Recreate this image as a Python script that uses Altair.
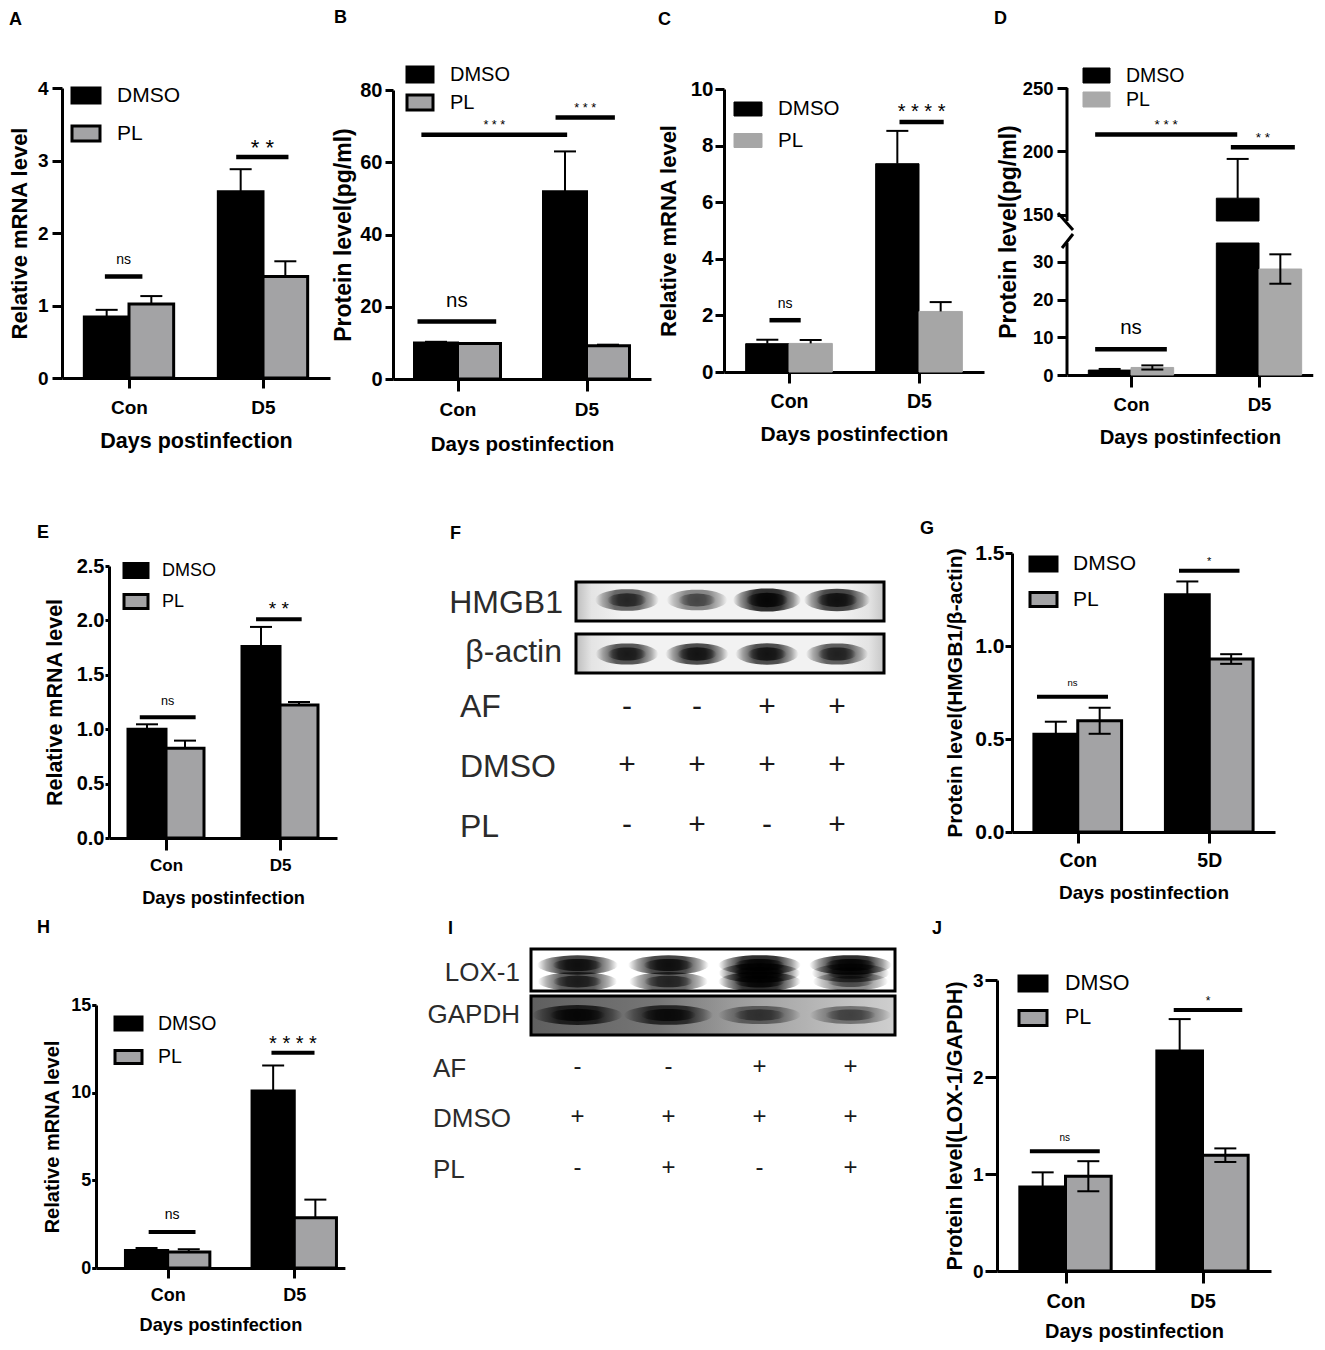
import numpy as np
import pandas as pd
import altair as alt

FONT = "Liberation Sans"
GROUPS = ["Con", "D5"]
GROUPS_G = ["Con", "5D"]
SERIES = ["DMSO", "PL"]
LANES = [1, 2, 3, 4]

# ---------------- bar-chart data ----------------
A_DMSO = [0.84, 2.57]; A_DMSO_SD = [0.10, 0.31]
A_PL = [1.02, 1.40]; A_PL_SD = [0.11, 0.21]
A_SIG_LABEL = ["ns", "* *"]; A_SIG_X0 = [0.32, 1.30]; A_SIG_X1 = [0.60, 1.69]
A_SIG_Y = [1.40, 3.05]; A_SIG_TEXT_Y = [1.63, 3.26]
A_YTICKS = [0, 1, 2, 3, 4]

B_DMSO = [10.0, 51.8]; B_DMSO_SD = [0.3, 11.2]
B_PL = [9.8, 9.2]; B_PL_SD = [0.1, 0.3]
B_SIG_LABEL = ["ns", "* * *", "* * *"]; B_SIG_X0 = [0.19, 0.22, 1.26]; B_SIG_X1 = [0.80, 1.35, 1.72]
B_SIG_Y = [15.9, 67.6, 72.4]; B_SIG_TEXT_Y = [21.5, 71.2, 76.1]
B_YTICKS = [0, 20, 40, 60, 80]

C_DMSO = [1.00, 7.36]; C_DMSO_SD = [0.14, 1.16]
C_PL = [1.01, 2.14]; C_PL_SD = [0.12, 0.33]
C_SIG_LABEL = ["ns", "* * * *"]; C_SIG_X0 = [0.35, 1.35]; C_SIG_X1 = [0.59, 1.69]
C_SIG_Y = [1.83, 8.83]; C_SIG_TEXT_Y = [2.42, 9.39]
C_YTICKS = [0, 2, 4, 6, 8, 10]

D_DMSO = [1.3, 163.0]; D_DMSO_SD = [0.3, 31.0]
D_PL = [2.0, 28.1]; D_PL_SD = [0.55, 3.9]
D_SIG_LABEL = ["ns", "* * *", "* *"]; D_SIG_X0 = [0.22, 0.22, 1.28]; D_SIG_X1 = [0.78, 1.33, 1.78]
D_SIG_Y = [6.8, 213.2, 203.2]; D_SIG_TEXT_Y = [12.4, 223.7, 213.7]
D_YTICKS = [0, 10, 20, 30, 150, 200, 250]
D_BREAK = [35, 145]

E_DMSO = [1.00, 1.76]; E_DMSO_SD = [0.045, 0.18]
E_PL = [0.825, 1.222]; E_PL_SD = [0.07, 0.028]
E_SIG_LABEL = ["ns", "* *"]; E_SIG_X0 = [0.27, 1.29]; E_SIG_X1 = [0.76, 1.69]
E_SIG_Y = [1.11, 2.01]; E_SIG_TEXT_Y = [1.26, 2.15]
E_YTICKS = [0, 0.5, 1.0, 1.5, 2.0, 2.5]

G_DMSO = [0.526, 1.275]; G_DMSO_SD = [0.067, 0.072]
G_PL = [0.598, 0.930]; G_PL_SD = [0.07, 0.026]
G_SIG_LABEL = ["ns", "*"]; G_SIG_X0 = [0.19, 1.27]; G_SIG_X1 = [0.73, 1.73]
G_SIG_Y = [0.727, 1.405]; G_SIG_TEXT_Y = [0.80, 1.47]
G_YTICKS = [0, 0.5, 1.0, 1.5]

H_DMSO = [1.0, 10.1]; H_DMSO_SD = [0.14, 1.45]
H_PL = [0.91, 2.87]; H_PL_SD = [0.16, 1.03]
H_SIG_LABEL = ["ns", "* * * *"]; H_SIG_X0 = [0.35, 1.32]; H_SIG_X1 = [0.72, 1.66]
H_SIG_Y = [2.06, 12.28]; H_SIG_TEXT_Y = [3.0, 13.1]
H_YTICKS = [0, 5, 10, 15]

J_DMSO = [0.867, 2.267]; J_DMSO_SD = [0.15, 0.33]
J_PL = [0.977, 1.194]; J_PL_SD = [0.155, 0.07]
J_SIG_LABEL = ["ns", "*"]; J_SIG_X0 = [0.24, 1.29]; J_SIG_X1 = [0.75, 1.79]
J_SIG_Y = [1.235, 2.69]; J_SIG_TEXT_Y = [1.376, 2.82]
J_YTICKS = [0, 1, 2, 3]

# ---------------- western blot data (band intensity per lane) ----------------
F_HMGB1 = [0.72, 0.55, 1.00, 0.88]
F_BACTIN = [0.80, 0.85, 0.85, 0.75]
F_AF = ["-", "-", "+", "+"]; F_DMSO = ["+", "+", "+", "+"]; F_PLS = ["-", "+", "-", "+"]
I_LOX1_UPPER = [0.90, 0.90, 1.00, 1.00]
I_LOX1_MID = [0.0, 0.0, 0.95, 0.70]
I_LOX1_LOWER = [0.80, 0.75, 1.00, 0.55]
I_GAPDH = [0.90, 0.85, 0.55, 0.50]
I_AF = ["-", "-", "+", "+"]; I_DMSO = ["+", "+", "+", "+"]; I_PLS = ["-", "+", "-", "+"]

# ---------------- canvas ----------------
O = 8            # page margin: page coordinate -> chart coordinate
CW, CH = 1309, 1334
DUMMY = pd.DataFrame({"k": [0]})


def ellipse_path(r, n=36):
    pts = []
    for k in range(n):
        t = 2 * np.pi * k / n
        pts.append(f"{np.cos(t):.4f},{r * np.sin(t):.4f}")
    return "M" + "L".join(pts) + "Z"


def rect_path(r):
    return f"M-1,-{r:.4f}L1,-{r:.4f}L1,{r:.4f}L-1,{r:.4f}Z"


BAND_FILL = alt.RadialGradient(
    gradient="radial", x1=0.5, y1=0.5, r1=0, x2=0.5, y2=0.5, r2=0.5,
    stops=[alt.GradientStop(color="rgba(0,0,0,1)", offset=0),
           alt.GradientStop(color="rgba(0,0,0,0.92)", offset=0.45),
           alt.GradientStop(color="rgba(0,0,0,0.45)", offset=0.78),
           alt.GradientStop(color="rgba(0,0,0,0)", offset=1)])


def letter_layer(ch, x, y):
    return alt.Chart(DUMMY).mark_text(font=FONT, fontSize=18, fontWeight="bold", align="left",
                                      baseline="middle", color="black").encode(
        x=alt.value(x - O), y=alt.value(y - O), text=alt.value(ch))


def bar_panel(P):
    ax, top, bot = P["ax"] - O, P["top"] - O, P["bottom"] - O
    W = (P["xmax"] - P["xmin"]) * P["step"]
    groups = P["groups"]
    bw = 1 / 3
    cap = 11 / P["step"]
    xs = alt.Scale(domain=[P["xmin"], P["xmax"]], range=[ax, ax + W], nice=False, zero=False)
    brk = P.get("ybreak")
    if brk:
        ys = alt.Scale(domain=[0, brk[0], brk[1], P["ymax"]], range=[v - O for v in P["yrange"]],
                       nice=False, zero=False)
    else:
        ys = alt.Scale(domain=[0, P["ymax"]], range=[bot, top], nice=False, zero=True)

    bars, errs = [], []
    for gi, g in enumerate(groups):
        for si, (s, vals, sds) in enumerate([("DMSO", P["dmso"], P["dmso_sd"]), ("PL", P["pl"], P["pl_sd"])]):
            xc = gi + 0.5 + (si - 0.5) * bw
            v, sd = vals[gi], sds[gi]
            pieces = [(0, v)]
            if brk:
                pieces = [(0, min(v, brk[0]))] + ([(brk[1], v)] if v > brk[1] else [])
            for a, b in pieces:
                bars.append(dict(series=s, x0=xc - bw / 2, x1=xc + bw / 2, y0=a, y1=b))
            lower = (s == "PL") and P["two_sided"]
            errs.append(dict(xc=xc, v=v, hi=v + sd, lo=(v - sd) if lower else v,
                             c0=xc - cap, c1=xc + cap, lower=lower))
    bars = pd.DataFrame(bars)
    errs = pd.DataFrame(errs)
    sig = pd.DataFrame({"lab": P["sig"][0], "x0": P["sig"][1], "x1": P["sig"][2],
                        "y": P["sig"][3], "ty": P["sig"][4]})
    sig["xm"] = (sig["x0"] + sig["x1"]) / 2
    sig["ns"] = sig["lab"] == "ns"

    lg = P["legend"]  # left, w, h, first centre y, spacing, label left, font size (relative to plot)
    sw = P["bar_sw"]
    d = lg[1]
    legX = lg[0] - sw / 2
    legY = lg[3] - (d + sw) / 2
    legend = alt.Legend(orient="none", legendX=ax + legX, legendY=top + legY, title=None,
                        symbolType=rect_path(lg[2] / lg[1]), symbolSize=d * d,
                        symbolStrokeWidth=sw, labelFont=FONT, labelFontSize=lg[6],
                        labelColor="black", labelOffset=lg[5] - (legX + d + sw),
                        rowPadding=lg[4] - (d + sw), padding=0, offset=0)

    lab_expr = f"datum.value < 1 ? '{groups[0]}' : '{groups[1]}'"
    xaxis = alt.Axis(orient="bottom", offset=bot - CH, values=[0.5, 1.5], labelExpr=lab_expr,
                     domain=True, ticks=True, labels=True,
                     title=P["xtitle"], titleFont=FONT, titleFontSize=P["xtfs"], titleFontWeight="bold",
                     titleColor="black", titleBaseline="alphabetic", titleX=ax + W / 2, titleY=P["xty"],
                     titleAlign="center", labelFont=FONT, labelFontSize=P["xlfs"], labelFontWeight="bold",
                     labelColor="black", labelPadding=P["xlp"], tickSize=P["xts"], tickWidth=3,
                     tickColor="black", domainWidth=3, domainColor="black", grid=False, labelFlush=False,
                     labelOverlap=False)
    yaxis = alt.Axis(orient="left", offset=-ax, values=P["yticks"], format=P.get("yfmt", "d"),
                     ticks=True, labels=True,
                     title=P["ytitle"], titleFont=FONT, titleFontSize=P["ytfs"], titleFontWeight="bold",
                     titleColor="black", titleBaseline="alphabetic", titleX=P["ytx"],
                     titleY=(top + bot) / 2, titleAlign="center", titleAngle=270,
                     labelFont=FONT, labelFontSize=P["ylfs"], labelFontWeight="bold", labelColor="black",
                     labelPadding=P["ylp"], tickSize=P["yts"], tickWidth=3, tickColor="black",
                     domain=not brk, domainWidth=3, domainColor="black", grid=False, labelOverlap=False)

    layers = [letter_layer(P["letter"], *P["letter_xy"])]
    layers.append(alt.Chart(bars).mark_rect(strokeWidth=sw).encode(
        x=alt.X("x0:Q", scale=xs, axis=xaxis), x2="x1:Q",
        y=alt.Y("y0:Q", scale=ys, axis=yaxis), y2="y1:Q",
        fill=alt.Fill("series:N", scale=alt.Scale(domain=SERIES, range=["#000000", P["pl_fill"]]), legend=legend),
        stroke=alt.Stroke("series:N", scale=alt.Scale(domain=SERIES, range=["#000000", P["pl_stroke"]]),
                          legend=legend),
    ))
    if brk:
        seg = pd.DataFrame({"a": [0, brk[1]], "b": [brk[0], P["ymax"]]})
        layers.append(alt.Chart(seg).mark_rule(color="black", strokeWidth=3).encode(
            x=alt.value(ax), y=alt.Y("a:Q", scale=ys), y2="b:Q"))
        for (xa, ya, xb, yb) in P["breakmarks"]:
            layers.append(alt.Chart(DUMMY).mark_rule(color="black", strokeWidth=3).encode(
                x=alt.value(ax + xa), y=alt.value(top + ya), x2=alt.value(ax + xb), y2=alt.value(top + yb)))
    layers.append(alt.Chart(errs).mark_rule(color="black", strokeWidth=2).encode(
        x=alt.X("xc:Q", scale=xs), y=alt.Y("lo:Q", scale=ys), y2="hi:Q"))
    layers.append(alt.Chart(errs).mark_rule(color="black", strokeWidth=2).encode(
        x=alt.X("c0:Q", scale=xs), x2="c1:Q", y=alt.Y("hi:Q", scale=ys)))
    low = errs[errs["lower"]]
    if len(low):
        layers.append(alt.Chart(low).mark_rule(color="black", strokeWidth=2).encode(
            x=alt.X("c0:Q", scale=xs), x2="c1:Q", y=alt.Y("lo:Q", scale=ys)))
    layers.append(alt.Chart(sig).mark_rule(color="black", strokeWidth=P["sig_sw"]).encode(
        x=alt.X("x0:Q", scale=xs), x2="x1:Q", y=alt.Y("y:Q", scale=ys)))
    layers.append(alt.Chart(sig[sig["ns"]]).mark_text(font=FONT, fontSize=P["ns_fs"], color="black",
                                                     baseline="middle").encode(
        x=alt.X("xm:Q", scale=xs), y=alt.Y("ty:Q", scale=ys), text="lab:N"))
    layers.append(alt.Chart(sig[~sig["ns"]]).mark_text(font=FONT, fontSize=P["star_fs"], color="black",
                                                      baseline="middle", dy=0.28 * P["star_fs"]).encode(
        x=alt.X("xm:Q", scale=xs), y=alt.Y("ty:Q", scale=ys), text="lab:N"))
    return alt.layer(*layers)


def blot_panel(Bc):
    bx, by = Bc["x"] - O, Bc["y"] - O
    W = Bc["w"]
    xs = alt.Scale(domain=Bc["xdom"], range=[bx, bx + W], nice=False, zero=False)
    layers = []
    for (t, b, fill) in Bc["boxes"]:
        layers.append(alt.Chart(DUMMY).mark_rect(fill=fill, strokeWidth=0).encode(
            x=alt.value(bx), x2=alt.value(bx + W), y=alt.value(by + t), y2=alt.value(by + b)))
    for (inten, y, wmin, wmax, r) in Bc["bands"]:
        df = pd.DataFrame({"lane": LANES, "inten": inten})
        for m in (1.0, 0.62):
            layers.append(alt.Chart(df).mark_point(shape=ellipse_path(r), filled=True, fill=BAND_FILL,
                                                   strokeWidth=0).encode(
                x=alt.X("lane:Q", scale=xs, axis=None), y=alt.value(by + y),
                size=alt.Size("inten:Q", scale=alt.Scale(domain=[0, 1], range=[(wmin * m) ** 2, (wmax * m) ** 2]),
                              legend=None),
                opacity=alt.Opacity("inten:Q", scale=alt.Scale(domain=[0, 1], range=[0, Bc["band_op"]]),
                                    legend=None)))
    for (t, b, fill) in Bc["boxes"]:
        layers.append(alt.Chart(DUMMY).mark_rect(fillOpacity=0, stroke="black", strokeWidth=3).encode(
            x=alt.value(bx), x2=alt.value(bx + W), y=alt.value(by + t), y2=alt.value(by + b)))
    for (txt, x, y, align, fs) in Bc["labels"]:
        layers.append(alt.Chart(DUMMY).mark_text(font=FONT, fontSize=fs, color="#2b2b2b", align=align,
                                                 baseline="alphabetic").encode(
            x=alt.value(bx + x), y=alt.value(by + y), text=alt.value(txt)))
    for (signs, y) in Bc["signs"]:
        df = pd.DataFrame({"lane": LANES, "sign": signs})
        layers.append(alt.Chart(df).mark_text(font=FONT, fontSize=Bc["sign_fs"], color="#1a1a1a",
                                              baseline="middle").encode(
            x=alt.X("lane:Q", scale=xs, axis=None), y=alt.value(by + y), text="sign:N"))
    layers.append(letter_layer(Bc["letter"], *Bc["letter_xy"]))
    return alt.layer(*layers).resolve_scale(size="independent", opacity="independent")


def grad(stops):
    return alt.LinearGradient(gradient="linear", x1=0, x2=1, y1=0, y2=0,
                              stops=[alt.GradientStop(color=c, offset=o) for o, c in stops])


GREY = "#a3a3a5"
common = dict(xmin=0, xmax=2, groups=GROUPS, bar_sw=3, pl_fill=GREY, pl_stroke="#000000",
              two_sided=False, xtitle="Days postinfection", sig_sw=4.5)

PA = dict(common, ax=62, top=88, bottom=378, step=134, ymax=4, yticks=A_YTICKS,
          dmso=A_DMSO, dmso_sd=A_DMSO_SD, pl=A_PL, pl_sd=A_PL_SD,
          sig=(A_SIG_LABEL, A_SIG_X0, A_SIG_X1, A_SIG_Y, A_SIG_TEXT_Y),
          letter="A", letter_xy=(9, 19.5), ytitle="Relative mRNA level", ytfs=22, ytx=-36,
          ylfs=19, yts=10, ylp=4, xtfs=21.5, xty=69.3, xlfs=19, xts=10, xlp=10,
          legend=(10, 28, 15, 7.5, 40, 55, 21), ns_fs=14, star_fs=22)
PB = dict(common, ax=393, top=90, bottom=379, step=129, ymax=80, yticks=B_YTICKS,
          dmso=B_DMSO, dmso_sd=B_DMSO_SD, pl=B_PL, pl_sd=B_PL_SD,
          sig=(B_SIG_LABEL, B_SIG_X0, B_SIG_X1, B_SIG_Y, B_SIG_TEXT_Y),
          letter="B", letter_xy=(334, 18), ytitle="Protein level(pg/ml)", ytfs=23, ytx=-43,
          ylfs=20, yts=8, ylp=3, xtfs=20.5, xty=71, xlfs=19, xts=12, xlp=9.3,
          legend=(14, 26, 15, -15.5, 26, 57, 20), ns_fs=20.5, star_fs=12.6)
PC = dict(common, ax=724, top=89, bottom=372, step=130, ymax=10, yticks=C_YTICKS,
          dmso=C_DMSO, dmso_sd=C_DMSO_SD, pl=C_PL, pl_sd=C_PL_SD,
          sig=(C_SIG_LABEL, C_SIG_X0, C_SIG_X1, C_SIG_Y, C_SIG_TEXT_Y),
          letter="C", letter_xy=(658, 19.5), ytitle="Relative mRNA level", ytfs=22, ytx=-49,
          ylfs=20.5, yts=9, ylp=2, xtfs=21, xty=68.7, xlfs=19.5, xts=11, xlp=9.9,
          legend=(10, 28, 14, 20, 35.5, 54, 20.5), ns_fs=14, star_fs=20,
          pl_fill="#a6a6a6", pl_stroke="#a6a6a6", bar_sw=1)
PD = dict(common, ax=1067, top=88, bottom=375, step=128, xmax=1.92, ymax=250, ybreak=D_BREAK,
          yrange=[375, 243, 221, 88], yticks=D_YTICKS, dmso=D_DMSO, dmso_sd=D_DMSO_SD, pl=D_PL, pl_sd=D_PL_SD,
          sig=(D_SIG_LABEL, D_SIG_X0, D_SIG_X1, D_SIG_Y, D_SIG_TEXT_Y),
          letter="D", letter_xy=(994, 19), ytitle="Protein level(pg/ml)", ytfs=23, ytx=-52,
          ylfs=18.5, yts=10, ylp=4, xtfs=20.3, xty=68.3, xlfs=18.5, xts=12, xlp=8.3,
          legend=(16, 27, 15, -12.5, 24, 59, 19.5), ns_fs=20.5, star_fs=13.5,
          pl_fill="#a9a9a9", pl_stroke="#a9a9a9", bar_sw=1, two_sided=True,
          breakmarks=[(-9, 125, 6, 142), (-5, 160, 6, 146)])
PE = dict(common, ax=109, top=566, bottom=838, step=114, ymax=2.5, yfmt=".1f", yticks=E_YTICKS,
          dmso=E_DMSO, dmso_sd=E_DMSO_SD, pl=E_PL, pl_sd=E_PL_SD,
          sig=(E_SIG_LABEL, E_SIG_X0, E_SIG_X1, E_SIG_Y, E_SIG_TEXT_Y),
          letter="E", letter_xy=(37, 533), ytitle="Relative mRNA level",
          ytfs=21.5, ytx=-47.3, ylfs=20, yts=4, ylp=1, xtfs=18.2, xty=65.3, xlfs=17, xts=12, xlp=7,
          legend=(15, 24, 14, 4.5, 31, 53, 18), ns_fs=12.6, star_fs=19, sig_sw=4)
PG = dict(common, ax=1012, top=553, bottom=832, step=131.5, ymax=1.5, yfmt=".1f", yticks=G_YTICKS,
          dmso=G_DMSO, dmso_sd=G_DMSO_SD, pl=G_PL, pl_sd=G_PL_SD,
          sig=(G_SIG_LABEL, G_SIG_X0, G_SIG_X1, G_SIG_Y, G_SIG_TEXT_Y),
          letter="G", letter_xy=(920, 529), ytitle="Protein level(HMGB1/β-actin)",
          ytfs=21, ytx=-50.3, ylfs=21, yts=7, ylp=1, xtfs=19, xty=66.3, xlfs=19.4, xts=11, xlp=8.9,
          legend=(18, 27, 14, 11, 37.5, 61, 21), ns_fs=9.5, star_fs=11, two_sided=True, groups=GROUPS_G,
          sig_sw=4)
PH = dict(common, ax=96, top=1005, bottom=1268, step=126.6, xmin=-0.066, xmax=1.90, ymax=15, yticks=H_YTICKS,
          dmso=H_DMSO, dmso_sd=H_DMSO_SD, pl=H_PL, pl_sd=H_PL_SD,
          sig=(H_SIG_LABEL, H_SIG_X0, H_SIG_X1, H_SIG_Y, H_SIG_TEXT_Y),
          letter="H", letter_xy=(37, 928), ytitle="Relative mRNA level",
          ytfs=20, ytx=-37.7, ylfs=18, yts=4.3, ylp=1, xtfs=18.2, xty=62.7, xlfs=18, xts=10, xlp=8.4,
          legend=(19, 27, 13, 18.5, 35.5, 62, 19.5), ns_fs=14, star_fs=20, sig_sw=4)
PJ = dict(common, ax=997, top=980, bottom=1271, step=137, ymax=3, yticks=J_YTICKS,
          dmso=J_DMSO, dmso_sd=J_DMSO_SD, pl=J_PL, pl_sd=J_PL_SD,
          sig=(J_SIG_LABEL, J_SIG_X0, J_SIG_X1, J_SIG_Y, J_SIG_TEXT_Y),
          letter="J", letter_xy=(932, 929), ytitle="Protein level(LOX-1/GAPDH)", ytfs=21.5, ytx=-35.3,
          ylfs=19, yts=12, ylp=2, xtfs=20, xty=66.5, xlfs=20, xts=12, xlp=8.2,
          legend=(22, 28, 15, 3.5, 36.5, 68, 21.5), ns_fs=10, star_fs=12, two_sided=True, sig_sw=4)

F_BG = grad([(0, "#bdbdbd"), (0.05, "#e4e4e4"), (0.15, "#f2f2f2"), (0.85, "#f2f2f2"), (0.95, "#e4e4e4"),
             (1, "#c6c6c6")])
PF = dict(x=576, y=582, w=308, xdom=[1 - 51 / 70, 1 + 257 / 70], letter="F", letter_xy=(450, 533.5),
          boxes=[(0, 39, F_BG), (52, 91, F_BG)], band_op=0.85,
          bands=[(F_HMGB1, 18, 50, 68, 0.34), (F_BACTIN, 72, 56, 64, 0.34)],
          labels=[("HMGB1", -13, 31, "right", 32), ("β-actin", -14, 79.7, "right", 32),
                  ("AF", -116, 134.7, "left", 32), ("DMSO", -116, 194.7, "left", 32),
                  ("PL", -116, 254.7, "left", 32)],
          signs=[(F_AF, 125), (F_DMSO, 183), (F_PLS, 243)], sign_fs=30)
I_BG = grad([(0, "#5f5f5f"), (0.35, "#767676"), (0.55, "#9a9a9a"), (0.8, "#b8b8b8"), (1, "#cfcfcf")])
PI = dict(x=531, y=949, w=364, xdom=[1 - 46.5 / 91, 1 + 317.5 / 91], letter="I", letter_xy=(448, 929),
          boxes=[(0, 42, "#ffffff"), (47, 86, I_BG)], band_op=0.85,
          bands=[(I_LOX1_UPPER, 16, 66, 82, 0.24), (I_LOX1_MID, 24, 66, 82, 0.24),
                 (I_LOX1_LOWER, 32.5, 66, 82, 0.24), (I_GAPDH, 66, 70, 92, 0.22)],
          labels=[("LOX-1", -11, 31.7, "right", 26), ("GAPDH", -11, 74.3, "right", 26),
                  ("AF", -98, 127.7, "left", 26), ("DMSO", -98, 178.3, "left", 26),
                  ("PL", -98, 229.3, "left", 26)],
          signs=[(I_AF, 118), (I_DMSO, 168), (I_PLS, 219)], sign_fs=24)

RES = dict(x="independent", y="independent", fill="independent", stroke="independent",
           size="independent", opacity="independent")
LEG = dict(fill="independent", stroke="independent", size="independent", opacity="independent")

panels = [bar_panel(PA), bar_panel(PB), bar_panel(PC), bar_panel(PD),
          bar_panel(PE), blot_panel(PF), bar_panel(PG),
          bar_panel(PH), blot_panel(PI), bar_panel(PJ)]

chart = (alt.layer(*panels)
         .resolve_scale(**RES).resolve_legend(**LEG).resolve_axis(x="independent", y="independent")
         .properties(width=CW, height=CH, padding=0, background="white",
                     autosize=alt.AutoSizeParams(type="none"),
                     view=alt.ViewBackground(stroke="transparent", strokeWidth=0))
         .configure_view(stroke="transparent", strokeWidth=0, fill="white")
         .configure_axis(domain=False, ticks=False, labels=False, grid=False, domainColor="transparent")
         .configure(font=FONT))

chart.save("out.html", embed_options={"renderer": "svg", "actions": False})
